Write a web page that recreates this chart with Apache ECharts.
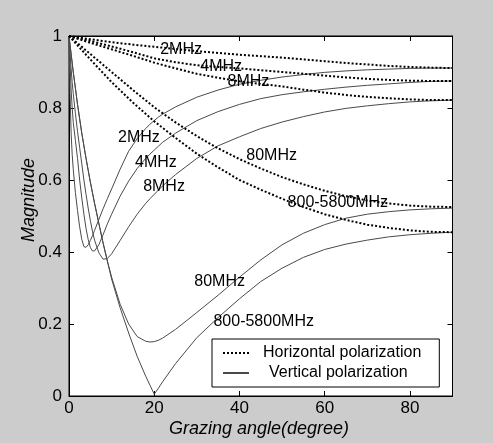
<!DOCTYPE html>
<html>
<head>
<meta charset="utf-8">
<script src="https://cdn.jsdelivr.net/npm/echarts@6/dist/echarts.min.js"></script>
<style>html,body{margin:0;padding:0;background:#cccccc;}#c{width:493px;height:443px;}</style>
</head>
<body>
<div id="c"></div>
<script>
// Grazing angles (degrees)
const hAngles = [0,5,10,15,20,25,30,35,40,45,50,55,60,65,70,75,80,85,90];
const vAngles = [0,0.25,0.5,0.75,1,1.5,2,2.5,3,3.5,4,4.5,5,5.5,6,7,8,9,10,12,14,16,18,19,20,21,22,25,30,35,40,45,50,55,60,65,70,75,80,85,90];

// Horizontal polarization |R|
const h2   = [1,0.991,0.983,0.976,0.970,0.964,0.958,0.953,0.948,0.944,0.940,0.935,0.930,0.925,0.921,0.917,0.914,0.912,0.911];
const h4   = [1,0.986,0.971,0.955,0.938,0.927,0.919,0.914,0.910,0.905,0.900,0.895,0.890,0.885,0.881,0.878,0.876,0.875,0.875];
const h8   = [1,0.981,0.963,0.945,0.926,0.910,0.895,0.884,0.874,0.867,0.860,0.851,0.843,0.836,0.831,0.827,0.824,0.822,0.822];
const h80  = [1,0.950,0.900,0.850,0.802,0.760,0.722,0.688,0.658,0.632,0.608,0.588,0.570,0.555,0.543,0.535,0.529,0.526,0.525];
const h800 = [1,0.935,0.872,0.815,0.763,0.717,0.673,0.635,0.600,0.573,0.548,0.525,0.505,0.489,0.476,0.467,0.460,0.456,0.455];

// Vertical polarization |R|
const v2   = [1,0.84,0.73,0.67,0.63,0.565,0.515,0.47,0.435,0.415,0.413,0.42,0.432,0.445,0.46,0.49,0.52,0.548,0.575,0.63,0.68,0.715,0.743,0.755,0.765,0.775,0.783,0.803,0.83,0.85,0.866,0.877,0.886,0.893,0.899,0.903,0.906,0.908,0.91,0.911,0.911];
const v4   = [1,0.92,0.85,0.8,0.76,0.71,0.66,0.6,0.55,0.505,0.465,0.435,0.413,0.403,0.403,0.42,0.448,0.478,0.505,0.555,0.597,0.632,0.66,0.672,0.683,0.694,0.705,0.73,0.765,0.79,0.81,0.826,0.837,0.845,0.852,0.858,0.863,0.867,0.871,0.874,0.875];
const v8   = [1,0.95,0.91,0.87,0.84,0.785,0.735,0.69,0.645,0.6,0.56,0.522,0.488,0.458,0.433,0.398,0.38,0.382,0.395,0.432,0.47,0.505,0.535,0.548,0.56,0.572,0.584,0.615,0.66,0.695,0.72,0.743,0.761,0.776,0.789,0.799,0.806,0.812,0.817,0.82,0.822];
const v80  = [1,0.975,0.95,0.925,0.9,0.855,0.81,0.77,0.73,0.695,0.66,0.627,0.595,0.565,0.535,0.48,0.425,0.375,0.33,0.255,0.2,0.165,0.152,0.15,0.151,0.155,0.161,0.185,0.232,0.28,0.33,0.378,0.42,0.452,0.476,0.494,0.505,0.512,0.517,0.52,0.522];
const v800 = [1,0.975,0.95,0.925,0.9,0.855,0.81,0.77,0.73,0.695,0.66,0.627,0.595,0.565,0.535,0.48,0.425,0.375,0.325,0.245,0.175,0.11,0.055,0.03,0.005,0.022,0.04,0.09,0.162,0.218,0.27,0.318,0.355,0.385,0.407,0.422,0.433,0.442,0.448,0.452,0.455];

// Curve annotations: [angle, magnitude, text]
const curveLabels = [
  [21.4,0.961,'2MHz'], [30.8,0.914,'4MHz'], [37.2,0.872,'8MHz'],
  [11.5,0.717,'2MHz'], [15.5,0.647,'4MHz'], [17.4,0.581,'8MHz'],
  [41.6,0.667,'80MHz'], [51.3,0.536,'800-5800MHz'],
  [29.4,0.319,'80MHz'], [33.9,0.206,'800-5800MHz']
];

const legendNames = ['Horizontal polarization','Vertical polarization'];
const FONT = 'Liberation Sans, Arial, sans-serif';
const H_COLOR = '#000';
const V_COLOR = '#4a4a4a';

function pairs(xs, ys){ return xs.map((x,i)=>[x, ys[i]]); }

const hSeries = [h2,h4,h8,h80,h800].map(d=>({
  name: legendNames[0], type:'line', data: pairs(hAngles,d), color:H_COLOR,
  symbol:'none', showSymbol:false, silent:true, z:3,
  itemStyle:{color:H_COLOR},
  lineStyle:{color:H_COLOR, width:2, type:[2,2]}
}));
const vSeries = [v2,v4,v8,v80,v800].map(d=>({
  name: legendNames[1], type:'line', data: pairs(vAngles,d), color:V_COLOR,
  symbol:'none', showSymbol:false, silent:true, z:2,
  itemStyle:{color:V_COLOR},
  lineStyle:{color:V_COLOR, width:1, type:'solid'}
}));
const labelSeries = {
  type:'scatter', symbolSize:0, silent:true, z:5,
  itemStyle:{opacity:1, color:'#000'},
  data: curveLabels.map(l=>({value:[l[0],l[1]], name:l[2]})),
  label:{show:true, position:'right', distance:0, formatter:'{b}', opacity:1,
         fontSize:16, color:'#000', fontFamily:FONT}
};

const axisCommon = {
  type:'value', splitLine:{show:false},
  axisLine:{show:true, onZero:false, lineStyle:{color:'#000', width:1}},
  axisTick:{show:true, inside:true, length:5, lineStyle:{color:'#000'}}
};

const chart = echarts.init(document.getElementById('c'), null, {renderer:'canvas'});
chart.setOption({
  backgroundColor:'#cccccc',
  animation:false,
  grid:{left:69, right:40.5, top:36, bottom:47, show:true, backgroundColor:'#fff', borderColor:'#000', borderWidth:1},
  xAxis:[
    Object.assign({}, axisCommon, {position:'bottom', min:0, max:90, interval:20,
      axisLabel:{show:true, showMaxLabel:false, margin:4, fontSize:17, color:'#000', fontFamily:FONT}}),
    Object.assign({}, axisCommon, {position:'top', min:0, max:90, interval:20, axisLabel:{show:false}})
  ],
  yAxis:[
    Object.assign({}, axisCommon, {position:'left', min:0, max:1, interval:0.2,
      axisLabel:{show:true, margin:7, fontSize:17, color:'#000', fontFamily:FONT}}),
    Object.assign({}, axisCommon, {position:'right', min:0, max:1, interval:0.2, axisLabel:{show:false}})
  ],
  legend:{
    left:212, top:339, orient:'vertical', selectedMode:false,
    backgroundColor:'#fff', borderColor:'#000', borderWidth:1, borderRadius:0,
    padding:[6,18,6,10], itemWidth:26, itemHeight:14, itemGap:4,
    itemStyle:{opacity:0, borderWidth:0},
    textStyle:{fontSize:16, color:'#000', fontFamily:FONT},
    data:[
      {name:legendNames[0], textStyle:{padding:[0,0,0,9]}},
      {name:legendNames[1], textStyle:{padding:[0,0,0,15]}}
    ]
  },
  graphic:[
    {type:'text', x:259, y:429, silent:true,
     style:{text:'Grazing angle(degree)', font:'italic 18px '+FONT, fill:'#000', align:'center', verticalAlign:'middle'}},
    {type:'text', x:29, y:200, rotation:Math.PI/2, silent:true,
     style:{text:'Magnitude', font:'italic 18px '+FONT, fill:'#000', align:'center', verticalAlign:'middle'}}
  ],
  series:[...vSeries, ...hSeries, labelSeries]
});
</script>
</body>
</html>
